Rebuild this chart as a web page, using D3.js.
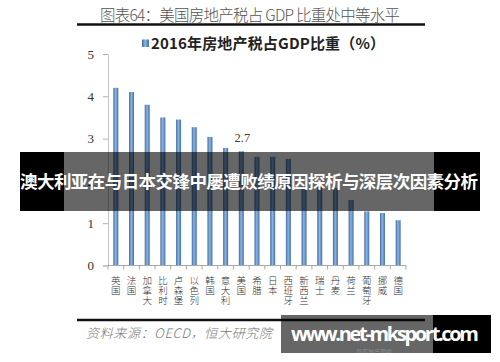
<!DOCTYPE html>
<html>
<head>
<meta charset="utf-8">
<script src="https://cdn.jsdelivr.net/npm/d3@7"></script>
<style>
  body { margin: 0; background: #fff; }
  svg { display: block; }
</style>
</head>
<body>
<div id="chart"></div>
<script>
var countries = ["英国", "法国", "加拿大", "比利时", "卢森堡", "以色列", "韩国", "意大利", "美国", "希腊",
                 "日本", "西班牙", "新西兰", "瑞士", "丹麦", "荷兰", "葡萄牙", "挪威", "德国"];
var taxShare = [4.2, 4.1, 3.8, 3.5, 3.45, 3.27, 3.04, 2.78, 2.7, 2.57, 2.57, 2.52, 1.88, 1.86, 1.83, 1.55, 1.28, 1.24, 1.07];
var yTicks = [0, 1, 2, 3, 4, 5];
var highlight = "美国";

var cjk = "'Noto Sans CJK SC', 'Noto Sans', sans-serif";
var serif = "'Liberation Serif', 'Noto Sans CJK SC', serif";

var width = 500, height = 362;

var svg = d3.select("#chart").append("svg")
    .attr("width", width)
    .attr("height", height);

var defs = svg.append("defs");
var grad = defs.append("linearGradient")
    .attr("id", "barGrad")
    .attr("x1", "0%").attr("x2", "100%").attr("y1", "0%").attr("y2", "0%");
grad.append("stop").attr("offset", "0%").attr("stop-color", "#3a6aa3");
grad.append("stop").attr("offset", "45%").attr("stop-color", "#8fb4df");
grad.append("stop").attr("offset", "100%").attr("stop-color", "#3f71ac");

// header
svg.append("text")
    .attr("x", 250).attr("y", 21)
    .attr("text-anchor", "middle")
    .attr("textLength", 300)
    .style("font-family", cjk)
    .style("font-size", "15.5px")
    .style("font-weight", 300)
    .style("fill", "#555")
    .text("图表64：美国房地产税占 GDP 比重处中等水平");

svg.append("line")
    .attr("x1", 77).attr("x2", 425)
    .attr("y1", 24.5).attr("y2", 24.5)
    .style("stroke", "#111")
    .style("stroke-width", 2.5);

// legend
svg.append("rect")
    .attr("x", 142).attr("y", 39.5)
    .attr("width", 7).attr("height", 7.5)
    .attr("fill", "url(#barGrad)");

svg.append("text")
    .attr("x", 151).attr("y", 48.5)
    .attr("textLength", 234)
    .style("font-family", cjk)
    .style("font-size", "15px")
    .style("font-weight", 700)
    .style("fill", "#222")
    .text("2016年房地产税占GDP比重（%）");

// scales
var x = d3.scaleBand()
    .domain(countries)
    .range([108, 406]);

var y = d3.scaleLinear()
    .domain([0, 5])
    .range([265.5, 54]);

var barW = 5;

// y axis
var yAxis = svg.append("g")
    .attr("transform", "translate(108,0)")
    .call(d3.axisLeft(y).tickValues(yTicks).tickSize(5).tickPadding(9).tickFormat(d3.format("d")));
yAxis.select(".domain").style("stroke", "#c4c4c4");
yAxis.selectAll(".tick line").style("stroke", "#b0b0b0");
yAxis.selectAll(".tick text")
    .style("font-family", serif)
    .style("font-size", "13px")
    .style("fill", "#333");

// bars
svg.selectAll(".bar")
    .data(countries)
    .enter().append("rect")
    .attr("class", "bar")
    .attr("x", function(d) { return x(d) + x.bandwidth() / 2 - barW / 2; })
    .attr("y", function(d, i) { return y(taxShare[i]); })
    .attr("width", barW)
    .attr("height", function(d, i) { return y(0) - y(taxShare[i]); })
    .attr("fill", "url(#barGrad)");

// x axis
svg.append("line")
    .attr("x1", 108).attr("x2", 406)
    .attr("y1", y(0)).attr("y2", y(0))
    .style("stroke", "#a8a8a8");

var edges = countries.map(function(d) { return x(d); }).concat([x.range()[1]]);
svg.selectAll(".xtick")
    .data(edges)
    .enter().append("line")
    .attr("class", "xtick")
    .attr("x1", function(d) { return d; })
    .attr("x2", function(d) { return d; })
    .attr("y1", y(0)).attr("y2", y(0) + 4)
    .style("stroke", "#a8a8a8");

// vertical category labels, one character per line
var lab = svg.selectAll(".xlab")
    .data(countries)
    .enter().append("text")
    .attr("class", "xlab")
    .attr("text-anchor", "middle")
    .style("font-family", cjk)
    .style("font-size", "9.5px")
    .style("font-weight", 300)
    .style("fill", "#333");

lab.selectAll("tspan")
    .data(function(d) { return d.split("").map(function(c) { return {c: c, k: d}; }); })
    .enter().append("tspan")
    .attr("x", function(d) { return x(d.k) + x.bandwidth() / 2; })
    .attr("y", function(d, j) { return 284 + j * 9.8; })
    .text(function(d) { return d.c; });

// value label for US
svg.append("text")
    .attr("x", x(highlight) + x.bandwidth() / 2 + 1)
    .attr("y", y(taxShare[countries.indexOf(highlight)]) - 9)
    .attr("text-anchor", "middle")
    .style("font-family", serif)
    .style("font-size", "12.5px")
    .style("fill", "#444")
    .text(taxShare[countries.indexOf(highlight)]);

// footer
svg.append("line")
    .attr("x1", 77).attr("x2", 425)
    .attr("y1", 320).attr("y2", 320)
    .style("stroke", "#111")
    .style("stroke-width", 2.5);

svg.append("text")
    .attr("x", 86).attr("y", 338)
    .attr("textLength", 186)
    .style("font-family", cjk)
    .style("font-size", "13px")
    .style("font-style", "italic")
    .style("font-weight", 300)
    .style("fill", "#777")
    .text("资料来源：OECD，恒大研究院");

// headline banner over the chart
var banner = svg.append("g");
banner.append("rect")
    .attr("x", 20).attr("y", 152)
    .attr("width", 44).attr("height", 59)
    .attr("fill", "#000");
banner.append("rect")
    .attr("x", 64).attr("y", 152)
    .attr("width", 370).attr("height", 59)
    .attr("fill", "rgba(0,0,0,0.6)");
banner.append("rect")
    .attr("x", 434).attr("y", 152)
    .attr("width", 46).attr("height", 59)
    .attr("fill", "#000");
banner.append("text")
    .attr("x", 20).attr("y", 188)
    .attr("textLength", 458)
    .style("font-family", cjk)
    .style("font-size", "17.5px")
    .style("font-weight", 700)
    .style("fill", "#fff")
    .text("澳大利亚在与日本交锋中屡遭败绩原因探析与深层次因素分析");

// site watermark
var mark = svg.append("g");
mark.append("rect")
    .attr("x", 281).attr("y", 315)
    .attr("width", 152).attr("height", 38)
    .attr("fill", "rgba(0,0,0,0.6)");
mark.append("rect")
    .attr("x", 433).attr("y", 315)
    .attr("width", 58).attr("height", 38)
    .attr("fill", "#000");
mark.append("text")
    .attr("x", 356).attr("y", 353.5)
    .style("font-family", cjk)
    .style("font-size", "6px")
    .style("fill", "rgba(255,255,255,0.25)")
    .text("贝壳地产观察");
mark.append("text")
    .attr("x", 291).attr("y", 341)
    .attr("textLength", 188)
    .style("font-family", "'Open Sans', 'DejaVu Sans', sans-serif")
    .style("font-size", "20px")
    .style("font-weight", 700)
    .style("fill", "#fff")
    .text("www.net-mksport.com");
</script>
</body>
</html>
